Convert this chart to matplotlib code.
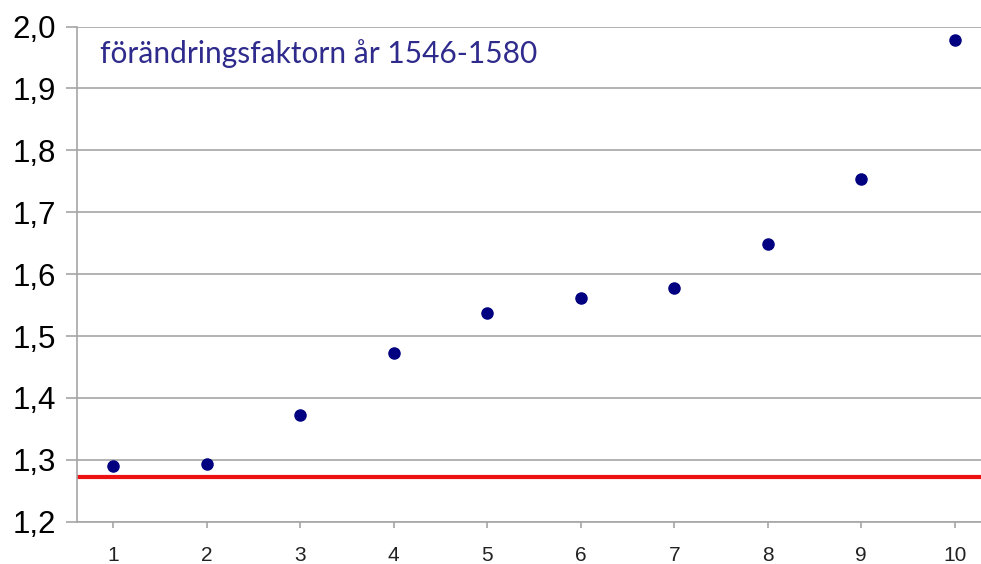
#!/usr/bin/env python
# -*- coding: utf-8 -*-
"""Förändringsfaktor scatter with reference line."""

import matplotlib
matplotlib.use("Agg")
import matplotlib.pyplot as plt
from matplotlib.ticker import FuncFormatter

## Data
steps = [1, 2, 3, 4, 5, 6, 7, 8, 9, 10]
factors = [1.290, 1.294, 1.373, 1.472, 1.537, 1.561, 1.577, 1.648, 1.753, 1.978]
reference_level = 1.272
title_text = "förändringsfaktorn år 1546-1580"

## Colors
GRID_COLOR = "#a6a6a6"
POINT_COLOR = "#000080"
LINE_COLOR = "#ee1111"
TEXT_COLOR = "#2f2b8c"

fig = plt.figure(figsize=(9.81, 5.64), dpi=100)
ax = fig.add_axes([0.0785, 0.075, 0.9215, 0.878])

ax.set_xlim(0.615, 10.28)
ax.set_ylim(1.2, 2.0)
ax.set_yticks([1.2, 1.3, 1.4, 1.5, 1.6, 1.7, 1.8, 1.9, 2.0])
ax.set_xticks(steps)
ax.yaxis.set_major_formatter(FuncFormatter(lambda v, p: f"{v:.1f}".replace(".", ",")))

ax.grid(axis="y", color=GRID_COLOR, linewidth=1.2)
ax.set_axisbelow(True)

for side in ["top", "right"]:
    ax.spines[side].set_visible(False)
for side in ["left", "bottom"]:
    ax.spines[side].set_color(GRID_COLOR)
    ax.spines[side].set_linewidth(1.2)

ax.tick_params(axis="y", length=8, width=1.2, color=GRID_COLOR, pad=7,
               labelsize=22.5, labelcolor="black")
ax.tick_params(axis="x", length=4.5, width=1.2, color=GRID_COLOR, pad=13,
               labelsize=15, labelcolor="#222222")
for lab in ax.get_yticklabels() + ax.get_xticklabels():
    lab.set_fontfamily("Liberation Sans")

ax.axhline(reference_level, color=LINE_COLOR, linewidth=3, zorder=2)
ax.plot(steps, factors, linestyle="none", marker="o", markersize=8,
        color=POINT_COLOR, zorder=3, clip_on=False)

ax.text(0.025, 0.975, title_text, transform=ax.transAxes, fontsize=21.5,
        family="Lato", color=TEXT_COLOR, va="top", ha="left")

fig.savefig("out.png", dpi=100, facecolor="white")
